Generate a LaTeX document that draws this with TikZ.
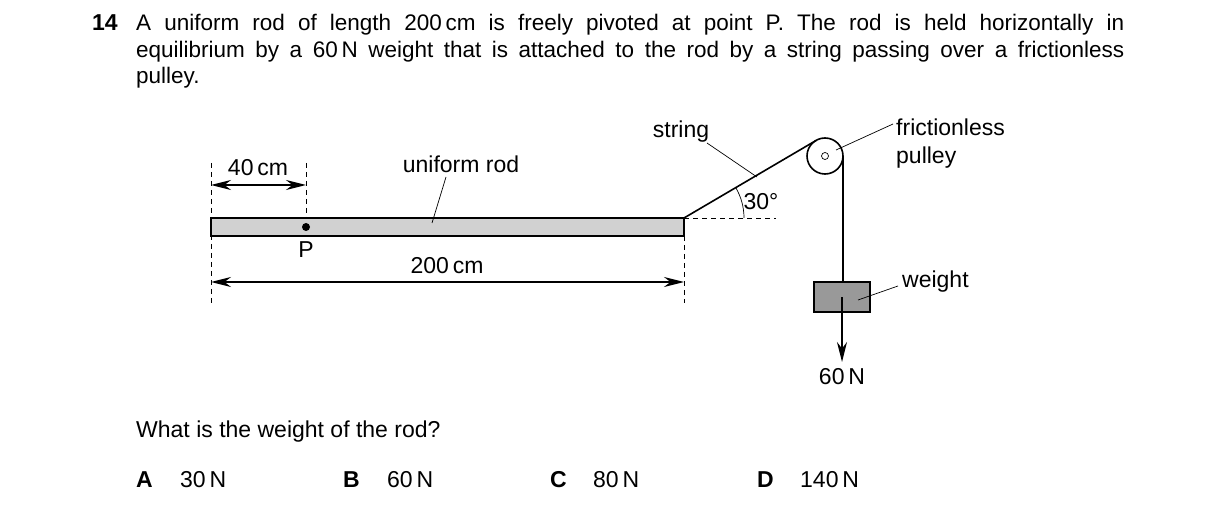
\documentclass[tikz,border=0pt]{standalone}
\usepackage{fontspec}
\setmainfont{Liberation Sans}
\usetikzlibrary{arrows.meta}
\begin{document}
\begin{tikzpicture}[x=1pt,y=-1pt,
  lbl/.style={font=\fontsize{23}{27}\selectfont,inner sep=0pt},
  dim/.style={{Stealth[length=20pt,width=10pt]}-{Stealth[length=20pt,width=10pt]},line width=1.6pt},
  dsh/.style={dash pattern=on 5pt off 4pt,line width=0.7pt},
  lead/.style={line width=0.7pt},
  thick1/.style={line width=1.6pt}]
\useasboundingbox (0,0) rectangle (1216,513);
% question text
\node[lbl,anchor=north west,font=\fontsize{23}{27}\bfseries] (num) at (92,14) {14};
\node[lbl,anchor=north west,text width=988pt,align=justify,font=\fontsize{22.5}{26.5}\selectfont] (q) at (136,14)
 {A uniform rod of length 200\,cm is freely pivoted at point P. The rod is held horizontally in\linebreak
  equilibrium by a 60\,N weight that is attached to the rod by a string passing over a frictionless\linebreak pulley.};
% rod
\draw[thick1,fill=black!18] (211,218) rectangle (684,236);
\coordinate (L) at (211,218);
\coordinate (R) at (684,218);
\node[circle,fill=black,inner sep=0pt,minimum size=8pt] (P) at (306,227) {};
\node[lbl] (Pl) at (306,250) {P};
% dashed lines
\draw[dsh] (211,163) -- (211,303);
\draw[dsh] (306,163) -- (306,218);
\draw[dsh] (684,236) -- (684,303);
\draw[dsh] (684,218) -- (776,218);
% dimensions
\coordinate (a1) at (211,185); \coordinate (a2) at (306,185);
\draw[dim] (a1) -- (a2);
\node[lbl] (d40) at (258,168) {40\,cm};
\coordinate (b1) at (211,282); \coordinate (b2) at (684,282);
\draw[dim] (b1) -- (b2);
\node[lbl] (d200) at (447,266) {200\,cm};
% uniform rod label
\node[lbl] (ur) at (461,164) {uniform rod};
\coordinate (urp) at (432,223);
\draw[lead] (446,177) -- (urp);
% pulley
\node[circle,draw,line width=1.6pt,minimum size=36pt,inner sep=0pt] (pul) at (825,156) {};
\node[circle,draw,line width=0.7pt,minimum size=7pt,inner sep=0pt] (axle) at (825,156) {};
\coordinate (T) at (816,140.5);
\draw[thick1] (R) -- (T);
% angle
\draw[lead] (744,218) arc[start angle=0,end angle=-30,radius=60];
\node[lbl] (ang) at (761,202) {30°};
% string label
\node[lbl] (str) at (681,132) {string};
\draw[lead] (707,143) -- (757,177);
% pulley label
\node[lbl,anchor=west,align=left,font=\fontsize{23}{28}\selectfont] (pl) at (896,144) {frictionless\\pulley};
\draw[lead] (836,150) -- (893,124);
% weight
\draw[thick1] (843,156) -- (843,282);
\node[draw,line width=1.6pt,fill=black!40,minimum width=56pt,minimum height=30pt,inner sep=0pt] (w) at (842,297) {};
\draw[line width=1.6pt,-{Stealth[length=20pt,width=10pt]}] (w.center) -- (842,362) coordinate (wt);
\node[lbl] (f) at (842,377) {60\,N};
\node[lbl,anchor=west] (wl) at (902,282) {weight};
\draw[lead] (858,300) -- (898,286);
% question
\node[lbl,anchor=west] (qq) at (136,432) {What is the weight of the rod?};
\node[lbl,anchor=west,font=\fontsize{23}{27}\bfseries] (A) at (136,480) {A};
\node[lbl,anchor=west] (Av) at (180,480) {30\,N};
\node[lbl,anchor=west,font=\fontsize{23}{27}\bfseries] (B) at (343,480) {B};
\node[lbl,anchor=west] (Bv) at (387,480) {60\,N};
\node[lbl,anchor=west,font=\fontsize{23}{27}\bfseries] (C) at (550,480) {C};
\node[lbl,anchor=west] (Cv) at (593,480) {80\,N};
\node[lbl,anchor=west,font=\fontsize{23}{27}\bfseries] (D) at (757,480) {D};
\node[lbl,anchor=west] (Dv) at (800,480) {140\,N};
\end{tikzpicture}
\end{document}
